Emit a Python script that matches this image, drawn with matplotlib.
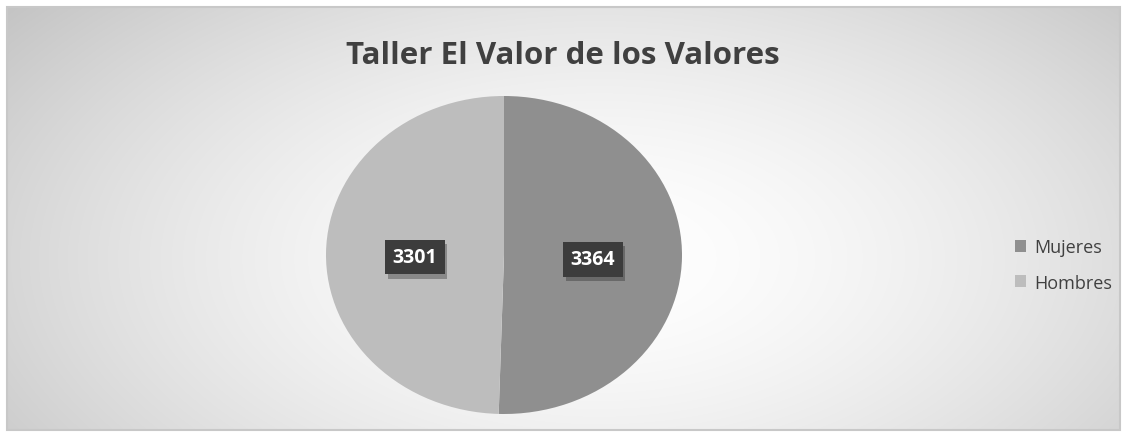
import numpy as np
import matplotlib
matplotlib.use("Agg")
import matplotlib.pyplot as plt
from matplotlib import patheffects as pe
from matplotlib.patches import Rectangle, Patch

title = "Taller El Valor de los Valores"
categories = ["Mujeres", "Hombres"]
values = [3364, 3301]
colors = ["#8f8f8f", "#bdbdbd"]

W, H = 1122, 435
fig = plt.figure(figsize=(W / 100, H / 100), dpi=100)
fig.patch.set_facecolor("white")

# background with radial gradient inside frame
bg = fig.add_axes([0, 0, 1, 1])
bg.set_xlim(0, W)
bg.set_ylim(H, 0)
bg.axis("off")
x0, x1, y0, y1 = 7, 1120, 8, 431
xx, yy = np.meshgrid(np.linspace(x0, x1, 400), np.linspace(y0, y1, 200))
cx, cy = 600, 260
d = np.sqrt(((xx - cx) / 700) ** 2 + ((yy - cy) / 380) ** 2)
g = np.clip(1.0 - 0.206 * d ** 1.6, 0.76, 1.0)
img = np.dstack([g, g, g])
bg.imshow(img, extent=(x0, x1, y1, y0), aspect="auto", interpolation="bilinear", zorder=0)
bg.add_patch(Rectangle((x0, y0), x1 - x0, y1 - y0, fill=False, edgecolor="#c8c8c8", lw=1.5, zorder=1))

bg.text(563, 56, title, ha="center", va="center", fontsize=22.5, fontweight="bold",
        color="#404040", family="Open Sans")

# pie
ax = fig.add_axes([326 / W, 20 / H, 356 / W, 318 / H])
ax.set_facecolor("none")
wedges, _ = ax.pie(values, colors=colors, startangle=90, counterclock=False,
                   wedgeprops=dict(linewidth=0))
ax.set_aspect("auto")
ax.set_xlim(-1, 1)
ax.set_ylim(-1, 1)

for w, v in zip(wedges, values):
    ang = np.deg2rad((w.theta1 + w.theta2) / 2)
    x, y = 0.5 * np.cos(ang), 0.5 * np.sin(ang) - 0.02
    t = ax.text(x, y, str(v), ha="center", va="center", fontsize=14, fontweight="bold",
                color="white", family="Open Sans",
                bbox=dict(boxstyle="square,pad=0.38", facecolor="#3c3c3c", edgecolor="none"))
    t.get_bbox_patch().set_path_effects([pe.SimplePatchShadow(offset=(2, -3), alpha=0.3), pe.Normal()])

handles = [Patch(facecolor=c, edgecolor="none") for c in colors]
fig.legend(handles, categories, loc="center left", bbox_to_anchor=(1008 / W, 1 - 266 / H),
           frameon=False, labelcolor="#404040", handlelength=0.6, handleheight=0.6,
           handletextpad=0.45, labelspacing=0.95, borderaxespad=0, borderpad=0.4,
           prop={"family": "Open Sans", "size": 13})

fig.savefig("out.png", dpi=100)
